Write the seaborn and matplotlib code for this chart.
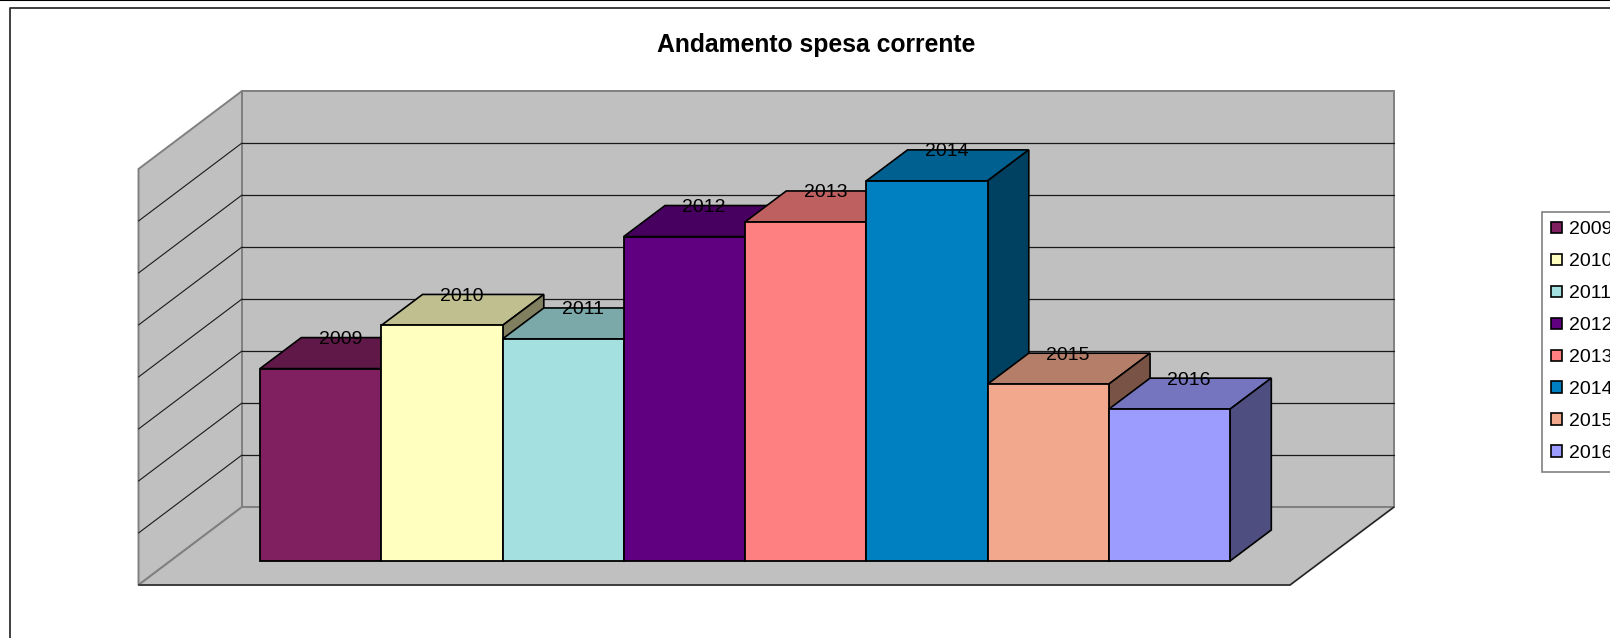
"""Andamento spesa corrente: 3D-looking bar chart drawn with seaborn."""

import matplotlib

matplotlib.use("Agg")
import matplotlib.pyplot as plt
from matplotlib.patches import Patch, Polygon
import seaborn as sns

years = ["2009", "2010", "2011", "2012", "2013", "2014", "2015", "2016"]
values = [3.70, 4.53, 4.27, 6.24, 6.52, 7.31, 3.40, 2.92]
colors = ["#802060", "#FFFFC0", "#A4E0E0", "#600080", "#FF8080", "#0080C0", "#F2A88C", "#9C9CFF"]
title = "Andamento spesa corrente"

# layout, in pixels of the 1610x638 picture
W, H = 1610, 638
BAR_LEFT, BAR_W, BAR_BASE, UNIT = 260, 121.25, 561, 52
DEPTH_X, DEPTH_Y = 41.3 / BAR_W, 31 / UNIT
WALL_L, WALL_R, WALL_BOTTOM = 242, 1394, 507
FRONT_L, FRONT_R, FRONT_BOTTOM = 138.5, 1290, 585
N_GRID = 8


def xd(px):
    return (px - BAR_LEFT) / BAR_W - 0.5


def yd(py):
    return (BAR_BASE - py) / UNIT


def shade(color, factor):
    r, g, b = matplotlib.colors.to_rgb(color)
    return (r * factor, g * factor, b * factor)


sns.set_theme(style="white")
plt.rcParams["font.family"] = ["Liberation Sans", "DejaVu Sans"]

fig, ax = plt.subplots(figsize=(W / 100, H / 100), dpi=100)
ax.set_position([0, 0, 1, 1])

sns.barplot(x=years, y=values, hue=years, palette=colors, dodge=False, width=1,
            legend=False, saturation=1, edgecolor="black", linewidth=1.3, ax=ax)

# walls and floor
grey = "#C0C0C0"
edge = "#808080"
wall_h = N_GRID * UNIT
ax.add_patch(Polygon([(xd(WALL_L), yd(WALL_BOTTOM)), (xd(WALL_R), yd(WALL_BOTTOM)),
                      (xd(WALL_R), yd(WALL_BOTTOM - wall_h)), (xd(WALL_L), yd(WALL_BOTTOM - wall_h))],
                     fc=grey, ec=edge, lw=1.4, zorder=-5))
ax.add_patch(Polygon([(xd(FRONT_L), yd(FRONT_BOTTOM)), (xd(WALL_L), yd(WALL_BOTTOM)),
                      (xd(WALL_L), yd(WALL_BOTTOM - wall_h)), (xd(FRONT_L), yd(FRONT_BOTTOM - wall_h))],
                     fc=grey, ec=edge, lw=1.4, zorder=-5))
ax.add_patch(Polygon([(xd(FRONT_L), yd(FRONT_BOTTOM)), (xd(WALL_L), yd(WALL_BOTTOM)),
                      (xd(WALL_R), yd(WALL_BOTTOM)), (xd(FRONT_R), yd(FRONT_BOTTOM))],
                     fc=grey, ec=edge, lw=1.4, zorder=-5))

# gridlines, back wall then side wall
for k in range(1, N_GRID):
    off = k * UNIT
    ax.plot([xd(WALL_L), xd(WALL_R)], [yd(WALL_BOTTOM - off)] * 2, color="#1A1A1A", lw=0.9, zorder=-4)
    ax.plot([xd(FRONT_L), xd(WALL_L)], [yd(FRONT_BOTTOM - off), yd(WALL_BOTTOM - off)],
            color="#1A1A1A", lw=0.8, zorder=-4)
ax.plot([xd(FRONT_L), xd(FRONT_R), xd(WALL_R)], [yd(FRONT_BOTTOM), yd(FRONT_BOTTOM), yd(WALL_BOTTOM)],
        color="#1A1A1A", lw=0.9, zorder=-4)

# top and side faces, painted left to right with the fronts
fronts = [c[0] for c in ax.containers]
for i, (bar, val, col) in enumerate(zip(fronts, values, colors)):
    bar.set_zorder(i + 1.5)
    l, r = i - 0.5, i + 0.5
    ax.add_patch(Polygon([(l, val), (r, val), (r + DEPTH_X, val + DEPTH_Y), (l + DEPTH_X, val + DEPTH_Y)],
                         fc=shade(col, 0.75), ec="black", lw=1.2, zorder=i + 1))
    ax.add_patch(Polygon([(r, 0), (r + DEPTH_X, DEPTH_Y), (r + DEPTH_X, val + DEPTH_Y), (r, val)],
                         fc=shade(col, 0.5), ec="black", lw=1.2, zorder=i + 1))
    ax.text(i + DEPTH_X / 2 - 1 / BAR_W, val + DEPTH_Y - 2 / UNIT, years[i], ha="center", va="center",
            fontsize=14, color="black", zorder=20)

ax.text(xd(816.5), yd(45), title, ha="center", va="center", fontsize=17.8, fontweight="bold", color="black")

# chart frame, cut by the edges of the picture
ax.plot([xd(10), xd(10), xd(W + 5)], [yd(H + 5), yd(8), yd(8)], color="#303030", lw=1.3)
ax.plot([xd(-5), xd(W + 5)], [yd(0.3), yd(0.3)], color="black", lw=1.5)

handles = [Patch(fc=c, ec="black", lw=1.2) for c in colors]
leg = ax.legend(handles, years, loc="upper left", bbox_to_anchor=(xd(1541.7), yd(211.7)),
                bbox_transform=ax.transData, fontsize=14, frameon=True, fancybox=False,
                edgecolor=edge, facecolor="white", framealpha=1, labelcolor="black",
                borderaxespad=0, borderpad=0.5, handlelength=0.56, handleheight=0.56,
                handletextpad=0.36, labelspacing=0.77)
leg.get_frame().set_linewidth(1.2)
leg.set_zorder(30)

ax.set_xlim(xd(0), xd(W))
ax.set_ylim(yd(H), yd(0))
ax.axis("off")

plt.savefig("out.png", dpi=100)
plt.close()
